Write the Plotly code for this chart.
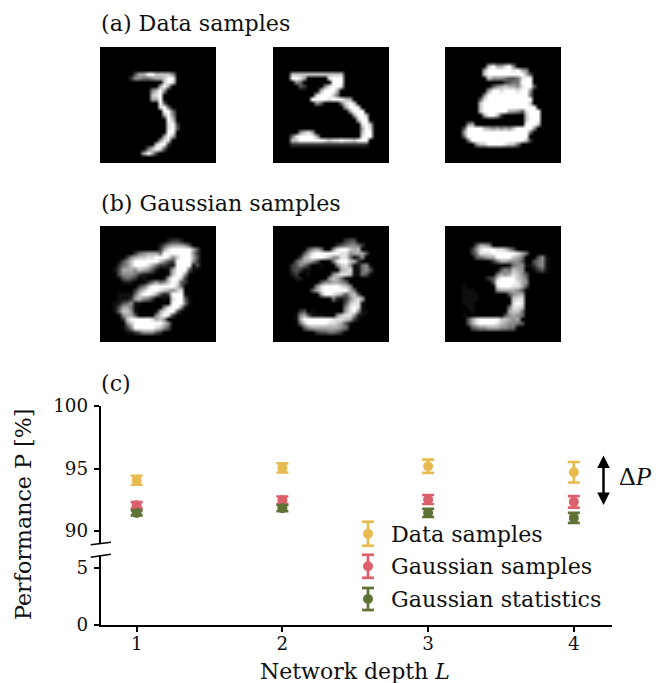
import plotly.graph_objects as go

W, H = 666, 683
FONT = "DejaVu Serif"
INK = "#111111"

depths = [1, 2, 3, 4]
series_names = ["Data samples", "Gaussian samples", "Gaussian statistics"]
series_colors = ["#E8BB50", "#DC5F6C", "#5F7336"]
data_perf = [94.06, 95.05, 95.18, 94.70]
data_err = [0.36, 0.37, 0.53, 0.82]
gauss_perf = [92.06, 92.46, 92.52, 92.33]
gauss_err = [0.25, 0.30, 0.36, 0.46]
stats_perf = [91.45, 91.83, 91.45, 91.05]
stats_err = [0.20, 0.25, 0.33, 0.40]
upper_ticks = [90, 95, 100]
lower_ticks = [0, 5]

data_img_1 = [
"", "", "", "", "", "",
"........3669977775",
".......25544566799",
"...............798",
"..............696",
"............5795",
"............789",
"............669",
"..............93",
"..............894",
"...............994",
"...............695",
"................97",
"................892",
"................893",
"................99",
"...............696",
"..............588",
".............7992",
"...........47983",
"..........6962",
"", "",
]
data_img_2 = [
"", "", "", "", "", "",
"....7777777777777",
"....9986.....8999",
".....54.......999",
"......32....58998",
"...........79996",
"..........899974",
".........9999899976",
"..........53....4897",
".................6998",
"..................6999",
"...................6997",
"....................799",
".....................897",
".....................698",
"......5786...........799",
"....4899996..........899",
"....7799999987889887999",
"....2222222222222222222",
"", "", "", "",
]
data_img_3 = [
"", "", "", "",
"..........7966895",
".........69999998965",
".........799999999963",
"..........75554334899",
"..............2344999",
"...........35676658993",
"..........69989998995",
".........599999999994",
"........3899999999999",
"........7999999999997",
"........79999999999999",
"........799999966538999",
".........69972.....7999",
"...................7999",
".....56............9997",
"....399997656565799995",
"....69999999999999994",
"....4999999999999999",
".....4999999999999972",
".......57799998774",
"", "", "", "",
]
gauss_img_1 = [
"", "", "",
"................1221",
"..............13566653",
"..............2689999963",
"........2456664999999952",
"......256778899985799963",
"....,3579999997532999952",
"....2457999864221,9999,3",
"...,3666576531..,69993,",
"....3555421,,...,7995,",
"....,3432.,....,69972",
".....,1,...2464579832",
".........24799999974",
"........257999876578",
"....,,,,479986312999,",
"....,,,267542..,.8993,",
"...,1345,,.......9994,",
"...,3664,......58995,",
"...,4775,....,68993,",
"....,5663....57982",
".....27999998675",
"......57999999975",
".....,25999998753",
"......,,2355532",
"", "",
]
gauss_img_2 = [
"", "", "",
".................233",
"...............2345542",
"........3564..5899767",
".......3689999998856663",
"......2679998755884,25",
".....356653...4899762",
"....23542..,...5785,,45,",
"....232,,.......678,,453",
"....12..,.....57887,,43,",
".....11......5764,",
"...........3556654",
"..........589999875",
".........36899999964",
"...........6998763673",
"..............41,25786",
".................3788,",
".................5898,",
"......23.,.......6895,,",
".....,563,,,...578851,",
".....,69999999888762,",
"......479999988763,",
".......35666666654",
"..........2334432",
"", "",
]
gauss_img_3 = [
"", "", "", "",
".......3665",
"......25899988753",
"......24888999999864",
".......345669999764...35,",
"...........24665553..345,",
"...............,455,,245,",
".............354765..,23,",
"............46568753",
"..........2379999764",
"...........399999865",
"....,.......89998863",
"....,,,.....5666653",
"....,,,,.......3566",
"....,,,,........788",
"....,,,.........898",
".....,,........4887",
"......,........6774",
"....,.........35654",
".....3689999977656",
".....36899998765543",
"......34556665544",
"", "", "",
]
image_grids = [data_img_1, data_img_2, data_img_3, gauss_img_1, gauss_img_2, gauss_img_3]
dim_level = {".": 0.0, ",": 0.06}


def to_cells(rows):
    return [[dim_level[c] if c in dim_level else int(c) / 9 for c in r.ljust(28, ".")[:28]]
            for r in rows]


def xp(px):
    return px / W


def yp(px):
    return 1 - px / H


fig = go.Figure()
layout = {}

img_left = [100, 273, 445]
img_top = [47, 226]
IMG = 116
for i, grid in enumerate(image_grids):
    n = i + 1
    left = img_left[i % 3]
    top = img_top[i // 3]
    fig.add_trace(go.Heatmap(
        z=to_cells(grid), zmin=0, zmax=1, showscale=False, hoverinfo="skip", zsmooth="best",
        colorscale=[[0, "#000000"], [1, "#ffffff"]],
        xaxis=f"x{n}", yaxis=f"y{n}",
    ))
    layout[f"xaxis{n}"] = dict(domain=[xp(left), xp(left + IMG)], range=[-0.5, 27.5],
                               visible=False, anchor=f"y{n}")
    layout[f"yaxis{n}"] = dict(domain=[yp(top + IMG), yp(top)], range=[27.5, -0.5],
                               visible=False, anchor=f"x{n}")

values = [data_perf, gauss_perf, stats_perf]
errors = [data_err, gauss_err, stats_err]
for name, color, v, e in zip(series_names, series_colors, values, errors):
    fig.add_trace(go.Scatter(
        x=depths, y=v, name=name, mode="markers", xaxis="x7", yaxis="y7",
        marker=dict(color=color, size=10),
        error_y=dict(type="data", array=e, visible=True, color=color, thickness=2.7, width=6),
        showlegend=False,
    ))
# keeps the lower broken axis alive
fig.add_trace(go.Scatter(x=depths, y=[None] * 4, mode="lines", xaxis="x7", yaxis="y8",
                         hoverinfo="skip", showlegend=False))

axis_style = dict(showline=True, linecolor="#000000", linewidth=2, ticks="outside",
                  ticklen=5, tickwidth=2, tickcolor="#000000", showgrid=False, zeroline=False,
                  automargin=False, tickfont=dict(family=FONT, size=18.3, color=INK))
layout["xaxis7"] = dict(axis_style, domain=[xp(100.7), xp(611.7)], range=[0.753, 4.26],
                        tickvals=depths, anchor="y8", ticklabelstandoff=-4)
layout["yaxis7"] = dict(axis_style, domain=[yp(543), yp(406)], range=[89.04, 100],
                        tickvals=upper_ticks, anchor="x7", ticklabelstandoff=2)
layout["yaxis8"] = dict(axis_style, domain=[yp(625), yp(555)], range=[0, 6.09],
                        tickvals=lower_ticks, anchor="x7", ticklabelstandoff=2)

shapes = []
annotations = []


def label(text, x, y, size=22.2, xanchor="left", angle=0, family=FONT):
    annotations.append(dict(text=text, x=xp(x), y=yp(y), xref="paper", yref="paper",
                            showarrow=False, xanchor=xanchor, yanchor="middle", textangle=angle,
                            font=dict(family=family, size=size, color=INK)))


def line(x0, y0, x1, y1, color="#000000", width=1.6):
    shapes.append(dict(type="line", xref="paper", yref="paper", x0=xp(x0), y0=yp(y0),
                       x1=xp(x1), y1=yp(y1), line=dict(color=color, width=width)))


label("(a) Data samples", 99, 23)
label("(b) Gaussian samples", 99, 203)
label("(c)", 99, 383)
label("Performance P [%]", 23, 515, angle=-90, xanchor="center")
label("Network depth <i>L</i>", 355, 671, xanchor="center", size=22)

# axis break marks
line(90.7, 544.7, 111, 542.3)
line(90.7, 557.3, 111, 554.3)

# legend
legend_y = [533.7, 566.3, 599]
legend_half = [12, 11.5, 11]
for name, color, ly, hl in zip(series_names, series_colors, legend_y, legend_half):
    line(368, ly - hl, 368, ly + hl, color, 2.7)
    line(362, ly - hl, 374, ly - hl, color, 2.7)
    line(362, ly + hl, 374, ly + hl, color, 2.7)
    shapes.append(dict(type="circle", xref="paper", yref="paper", x0=xp(363), x1=xp(373),
                       y0=yp(ly + 5), y1=yp(ly - 5), fillcolor=color, line=dict(width=0)))
    label(name, 389, ly)

# delta P arrow
annotations.append(dict(x=xp(603.5), y=yp(505), ax=0, ay=-51, xref="paper", yref="paper",
                        axref="pixel", ayref="pixel", text="", showarrow=True, arrowside="end+start",
                        arrowhead=2, arrowsize=1, arrowwidth=2.5, arrowcolor="#000000"))
label("\u0394<i>P</i>", 617, 476, size=26, family="Liberation Serif")

fig.update_layout(width=W, height=H, margin=dict(l=0, r=0, t=0, b=0), autosize=False,
                  paper_bgcolor="#ffffff", plot_bgcolor="#ffffff", showlegend=False,
                  shapes=shapes, annotations=annotations, **layout)
fig.write_html("out.html", config=dict(displayModeBar=False, responsive=False),
               post_script="document.body.style.margin='0';")
